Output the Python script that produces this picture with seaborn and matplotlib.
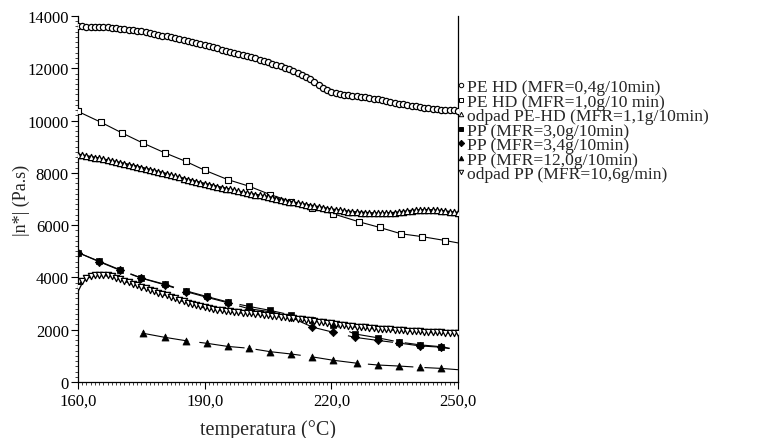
import matplotlib
matplotlib.use("Agg")
import matplotlib.pyplot as plt
import seaborn as sns
from matplotlib.ticker import MultipleLocator, FixedLocator, FixedFormatter
from matplotlib.lines import Line2D

# ---------------- data ----------------
temp_dense = list(range(160, 251))

pehd_04 = [13600, 13600, 13595, 13590, 13585, 13580, 13570, 13560, 13545, 13535,
           13520, 13500, 13480, 13460, 13435, 13410, 13380, 13350, 13320, 13285,
           13250, 13220, 13185, 13150, 13115, 13080, 13040, 13000, 12960, 12920,
           12880, 12840, 12800, 12760, 12715, 12670, 12630, 12590, 12550, 12510,
           12470, 12420, 12375, 12325, 12280, 12230, 12180, 12125, 12070, 12015,
           11960, 11890, 11820, 11750, 11670, 11580, 11470, 11350, 11240, 11150,
           11080, 11040, 11000, 10980, 10965, 10950, 10930, 10910, 10890, 10865,
           10840, 10810, 10780, 10745, 10710, 10680, 10650, 10620, 10590, 10565,
           10540, 10515, 10490, 10465, 10445, 10430, 10415, 10400, 10390, 10385,
           10380]

odpad_pehd = [8700, 8670, 8640, 8610, 8580, 8550, 8515, 8480, 8450, 8415,
              8380, 8345, 8310, 8275, 8240, 8200, 8160, 8120, 8080, 8040,
              8000, 7955, 7910, 7870, 7825, 7780, 7740, 7700, 7660, 7620,
              7580, 7545, 7510, 7470, 7435, 7400, 7365, 7330, 7290, 7255,
              7220, 7190, 7165, 7135, 7110, 7080, 7045, 7010, 6975, 6940,
              6900, 6870, 6840, 6810, 6780, 6750, 6720, 6690, 6660, 6630,
              6600, 6580, 6560, 6540, 6520, 6500, 6490, 6480, 6470, 6460,
              6450, 6445, 6445, 6450, 6460, 6470, 6490, 6510, 6530, 6550,
              6560, 6570, 6575, 6575, 6570, 6560, 6545, 6525, 6505, 6485,
              6470]

odpad_pp = [3650, 3850, 3960, 4040, 4075, 4090, 4090, 4075, 4040, 3990,
            3930, 3870, 3810, 3750, 3700, 3640, 3590, 3530, 3470, 3420,
            3370, 3320, 3260, 3200, 3140, 3090, 3040, 2990, 2940, 2890,
            2850, 2820, 2790, 2765, 2740, 2720, 2700, 2680, 2665, 2650,
            2635, 2620, 2605, 2590, 2575, 2560, 2540, 2520, 2500, 2480,
            2460, 2440, 2420, 2400, 2380, 2360, 2335, 2310, 2290, 2265,
            2240, 2220, 2195, 2175, 2150, 2130, 2115, 2100, 2085, 2070,
            2055, 2045, 2030, 2020, 2010, 2000, 1990, 1975, 1965, 1955,
            1945, 1935, 1925, 1915, 1905, 1900, 1895, 1890, 1885, 1880,
            1875]

# PE HD (MFR=1,0) - measured points, last entry = curve end at 250 (no marker)
temp_pehd10 = [160, 165.5, 170.5, 175.5, 180.5, 185.5, 190, 195.5, 200.5, 205.5,
               210.5, 215.5, 220.5, 226.5, 231.5, 236.5, 241.5, 247, 250]
pehd_10 = [10350, 9930, 9520, 9130, 8770, 8440, 8100, 7740, 7490, 7170,
           6900, 6660, 6430, 6130, 5910, 5670, 5560, 5410, 5320]

temp_pp = [160, 165, 170, 175, 180.5, 185.5, 190.5, 195.5, 200.5, 205.5,
           210.5, 215.5, 220.5, 225.5, 231, 236, 241, 246, 250]
pp_30 = [4950, 4620, 4290, 3980, 3740, 3490, 3270, 3060, 2890, 2740,
         2560, 2380, 2190, 1840, 1690, 1530, 1420, 1350, 1230]
pp_34 = [4950, 4600, 4270, 3970, 3720, 3460, 3240, 3030, 2800, 2690,
         2470, 2100, 1900, 1710, 1590, 1490, 1380, 1330, 1220]

temp_pp12 = [175.5, 180.5, 185.5, 190.5, 195.5, 200.5, 205.5, 210.5, 215.5, 220.5,
             226, 231, 236, 241, 246, 250]
pp_12 = [1860, 1710, 1580, 1480, 1360, 1290, 1160, 1070, 960, 830,
         720, 650, 610, 560, 520, 470]

labels = ["PE HD (MFR=0,4g/10min)",
          "PE HD (MFR=1,0g/10 min)",
          "odpad PE-HD (MFR=1,1g/10min)",
          "PP (MFR=3,0g/10min)",
          "PP (MFR=3,4g/10min)",
          "PP (MFR=12,0g/10min)",
          "odpad PP (MFR=10,6g/min)"]
markers = ["o", "s", "^", "s", "D", "^", "v"]
filled = [False, False, False, True, True, True, False]

x_ticks = [160, 190, 220, 250]
x_tick_labels = ["160,0", "190,0", "220,0", "250,0"]

# ---------------- style ----------------
sns.set_style("ticks")
plt.rcParams["font.family"] = ["Liberation Serif", "DejaVu Serif"]

fig = plt.figure(figsize=(7.57, 4.39), dpi=100)
ax = fig.add_axes([0.103, 0.1276, 0.502, 0.8337])

dash = (0, (41, 10))

# lines for sparse series
sns.lineplot(x=temp_pehd10, y=pehd_10, color="black", lw=0.8, ax=ax,
             estimator=None, sort=False)
for tt, vv in [(temp_pp, pp_30), (temp_pp, pp_34), (temp_pp12, pp_12)]:
    sns.lineplot(x=tt, y=vv, color="black", lw=0.8, linestyle=dash, ax=ax,
                 estimator=None, sort=False)

# markers for sparse series (curve end points at 250 have no marker)
sns.scatterplot(x=temp_pehd10[:-1], y=pehd_10[:-1], marker="s", s=14,
                color="white", edgecolor="black", linewidth=0.8, ax=ax, zorder=3)
sns.scatterplot(x=temp_pp[:-1], y=pp_30[:-1], marker="s", s=22,
                color="black", edgecolor="black", linewidth=0.5, ax=ax, zorder=3)
sns.scatterplot(x=temp_pp[:-1], y=pp_34[:-1], marker="D", s=18,
                color="black", edgecolor="black", linewidth=0.5, ax=ax, zorder=3)
sns.scatterplot(x=temp_pp12[:-1], y=pp_12[:-1], marker="^", s=26,
                color="black", edgecolor="black", linewidth=0.5, ax=ax, zorder=3)

# dense series (thin connecting line under the markers darkens the band)
for vv, m in [(pehd_04, "o"), (odpad_pehd, "^"), (odpad_pp, "v")]:
    sns.lineplot(x=temp_dense, y=vv, color="black", lw=1.6, ax=ax,
                 estimator=None, sort=False, zorder=4)
    sns.scatterplot(x=temp_dense, y=vv, marker=m, s=20, color="white",
                    edgecolor="black", linewidth=0.9, ax=ax, zorder=5)

# axes
ax.set_xlim(160, 250)
ax.set_ylim(0, 14000)
ax.xaxis.set_major_locator(FixedLocator(x_ticks))
ax.xaxis.set_major_formatter(FixedFormatter(x_tick_labels))
ax.xaxis.set_minor_locator(MultipleLocator(1))
ax.yaxis.set_major_locator(MultipleLocator(2000))
ax.yaxis.set_minor_locator(MultipleLocator(200))
ax.tick_params(axis="both", which="major", length=5, width=0.8,
               labelsize=12, colors="black")
ax.tick_params(axis="x", which="major", pad=2.5)
ax.tick_params(axis="y", which="major", pad=1.5)
ax.tick_params(axis="both", which="minor", length=2.5, width=0.6)
ax.tick_params(axis="y", which="both", right=False)
ax.tick_params(axis="x", which="both", top=False)
for side in ["left", "bottom", "right"]:
    ax.spines[side].set_visible(True)
    ax.spines[side].set_color("black")
    ax.spines[side].set_linewidth(0.9)
ax.spines["top"].set_visible(False)

ax.set_xlabel("temperatura (°C)", fontsize=14.5, labelpad=8)
ax.set_ylabel("|n*| (Pa.s)", fontsize=13, labelpad=-1.5)

# legend
handles = []
for m, f in zip(markers, filled):
    handles.append(Line2D([], [], marker=m, linestyle="none", markersize=3.2,
                          markerfacecolor="black" if f else "white",
                          markeredgecolor="black", markeredgewidth=0.7))
fig.legend(handles, labels, loc="upper left", bbox_to_anchor=(0.604, 0.818),
           frameon=False, fontsize=12.6, handlelength=0.4, handletextpad=0.15,
           labelspacing=-0.1, borderpad=0, borderaxespad=0)

fig.savefig("out.png", dpi=100)
